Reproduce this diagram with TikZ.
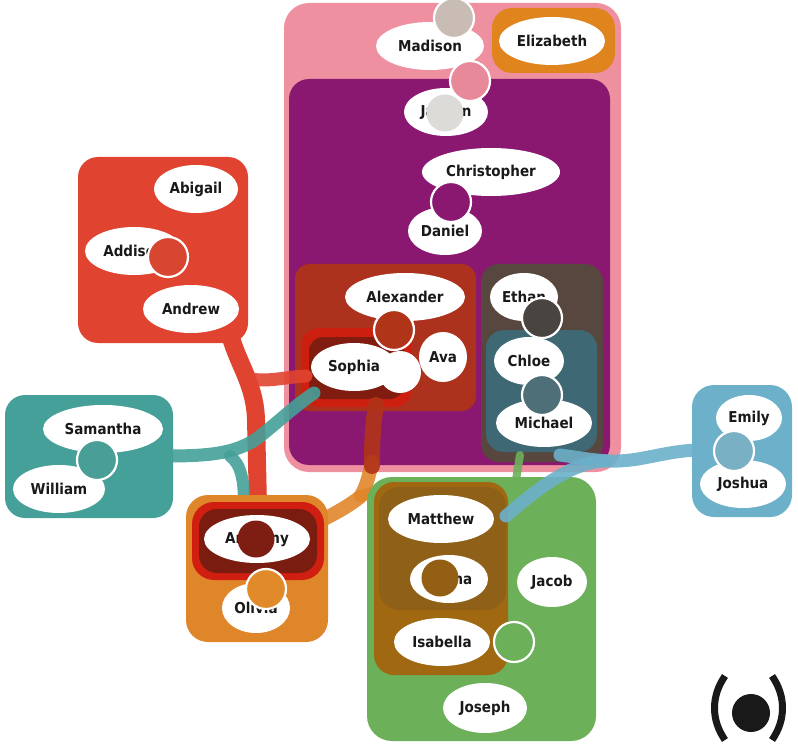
\documentclass[tikz,border=0pt]{standalone}
\usepackage{fontspec}
\newfontfamily\lab{DejaVuSansCondensed-Bold}[Extension=.ttf]
\usetikzlibrary{shapes.geometric}
\definecolor{pinkC}{HTML}{EE909F}
\definecolor{purpleC}{HTML}{8A1870}
\definecolor{rustC}{HTML}{B03418}
\definecolor{oliveC}{HTML}{554B3C}
\definecolor{chloeC}{HTML}{3D6B77}
\definecolor{ringC}{HTML}{D01E10}
\definecolor{ringIn}{HTML}{7B1C10}
\definecolor{elizC}{HTML}{E0841E}
\definecolor{redC}{HTML}{E04430}
\definecolor{tealC}{HTML}{45A09A}
\definecolor{orangeC}{HTML}{E0862A}
\definecolor{greenC}{HTML}{6CB05A}
\definecolor{brownC}{HTML}{A3650E}
\definecolor{brownIn}{HTML}{8A5E1A}
\definecolor{blueC}{HTML}{6CB0CA}
\definecolor{cGrey}{HTML}{C8BCB4}
\definecolor{cLight}{HTML}{DDDBD7}
\definecolor{cPink}{HTML}{E8899A}
\definecolor{cDark}{HTML}{4A4440}
\definecolor{cChloe}{HTML}{4E6E78}
\definecolor{cRed}{HTML}{D84530}
\definecolor{cTeal}{HTML}{4A9E98}
\definecolor{cDarkRed}{HTML}{7E1E12}
\definecolor{cOrange}{HTML}{E08A2A}
\definecolor{cBrown}{HTML}{935F14}
\definecolor{cBlue}{HTML}{7AB0C4}
\tikzset{
  setbox/.style={rounded corners=20},
  inbox/.style={rounded corners=18, fill opacity=0.93},
  tent/.style={line cap=round, line join=round, draw opacity=0.9},
  nm/.style={ellipse, fill=white, inner sep=0pt, font=\lab\fontsize{15}{17}\selectfont, text=black!90},
  mk/.style={circle, draw=white, line width=2.2pt, inner sep=0pt, minimum size=40pt},
  mkp/.style={circle, inner sep=0pt, minimum size=37pt}
}
\begin{document}
\begin{tikzpicture}[x=1pt,y=-1pt]
\useasboundingbox (0,0) rectangle (798,746);
% big sets
\fill[pinkC, setbox, rounded corners=25] (284,3) rectangle (621,472);
\fill[purpleC, setbox] (289,79) rectangle (610,465);
\fill[rustC, inbox, rounded corners=15] (295,264) rectangle (476,411);
\fill[oliveC, inbox] (481,264) rectangle (603,462);
\fill[chloeC, inbox] (486,330) rectangle (597,452);
\fill[ringC, inbox] (301,328) rectangle (412,407);
\fill[ringIn, inbox, rounded corners=14] (309,337) rectangle (404,399);
\fill[elizC, setbox] (492,8) rectangle (615,73);
% red set
\fill[redC, setbox] (78,157) rectangle (248,343);
\draw[tent, redC, draw opacity=1, line width=18pt] (229,330) .. controls (236,362) and (255,382) .. (256,420) -- (258,505);
\draw[tent, redC, line width=13pt] (250,379) .. controls (270,382) and (285,377) .. (306,376);
% teal set
\fill[tealC, setbox] (5,395) rectangle (173,518);
\draw[tent, tealC, line width=13pt] (168,456) .. controls (215,456) and (235,452) .. (255,440) .. controls (275,425) and (292,408) .. (314,393);
\draw[tent, tealC, line width=12pt] (230,456) .. controls (242,465) and (244,482) .. (244,506);
% orange set
\fill[orangeC, setbox, rounded corners=22] (186,495) rectangle (328,642);
\draw[tent, orangeC, line width=14pt] (372,462) .. controls (368,480) and (365,490) .. (360,497) .. controls (350,505) and (338,512) .. (322,520);
\draw[tent, orangeC, line width=12pt] (360,496) -- (376,492);
\draw[tent, rustC, line width=16pt] (376,405) .. controls (372,430) and (372,450) .. (372,466);
\fill[ringC, rounded corners=22] (192,502) rectangle (324,580);
\fill[ringIn, rounded corners=18] (199,509) rectangle (317,573);
% green set
\fill[greenC, setbox, rounded corners=25] (367,477) rectangle (596,741);
\draw[tent, greenC, line width=8pt] (520,455) -- (516,480);
% brown set
\fill[brownC, setbox, fill opacity=0.95] (374,482) rectangle (508,675);
\fill[brownIn, fill opacity=0.8, rounded corners=20] (379,487) rectangle (506,610);
% blue set
\fill[blueC, setbox, rounded corners=22] (692,385) rectangle (792,517);
\draw[tent, blueC, line width=13pt] (696,450) .. controls (660,452) and (640,462) .. (610,461) .. controls (590,460) and (575,457) .. (560,455);
\draw[tent, blueC, line width=13pt] (606,461) .. controls (575,462) and (545,482) .. (506,516);
% names
\node[nm, minimum width=108pt, minimum height=48pt] (madison) at (430,46) {Madison};
\node[nm, minimum width=106pt, minimum height=48pt] (elizabeth) at (552,41) {Elizabeth};
\node[nm, minimum width=84pt, minimum height=48pt] (jayden) at (446,112) {Jayden};
\node[nm, minimum width=138pt, minimum height=48pt] (christopher) at (491,172) {Christopher};
\node[nm, minimum width=74pt, minimum height=48pt] (daniel) at (445,231) {Daniel};
\node[nm, minimum width=120pt, minimum height=48pt] (alexander) at (405,297) {Alexander};
\node[nm, minimum width=86pt, minimum height=48pt] (sophia) at (354,367) {Sophia};
\node[nm, minimum width=48pt, minimum height=50pt] (ava) at (443,357) {Ava};
\node[nm, minimum width=68pt, minimum height=48pt] (ethan) at (524,297) {Ethan};
\node[nm, minimum width=70pt, minimum height=48pt] (chloe) at (529,361) {Chloe};
\node[nm, minimum width=96pt, minimum height=48pt] (michael) at (544,423) {Michael};
\node[nm, minimum width=84pt, minimum height=48pt] (abigail) at (196,189) {Abigail};
\node[nm, minimum width=98pt, minimum height=48pt] (addison) at (134,251) {Addison};
\node[nm, minimum width=96pt, minimum height=48pt] (andrew) at (191,309) {Andrew};
\node[nm, minimum width=120pt, minimum height=48pt] (samantha) at (103,429) {Samantha};
\node[nm, minimum width=92pt, minimum height=48pt] (william) at (59,489) {William};
\node[nm, minimum width=106pt, minimum height=48pt] (anthony) at (257,539) {Anthony};
\node[nm, minimum width=68pt, minimum height=50pt] (olivia) at (256,608) {Olivia};
\node[nm, minimum width=106pt, minimum height=48pt] (matthew) at (441,519) {Matthew};
\node[nm, minimum width=78pt, minimum height=48pt] (emma) at (449,579) {Emma};
\node[nm, minimum width=70pt, minimum height=50pt] (jacob) at (552,582) {Jacob};
\node[nm, minimum width=96pt, minimum height=48pt] (isabella) at (442,642) {Isabella};
\node[nm, minimum width=84pt, minimum height=50pt] (joseph) at (485,708) {Joseph};
\node[nm, minimum width=66pt, minimum height=46pt] (emily) at (749,418) {Emily};
\node[nm, minimum width=86pt, minimum height=48pt] (joshua) at (743,484) {Joshua};
% markers
\node[mk, fill=cGrey] (m1) at (454,18) {};
\node[mk, fill=cPink] (m2) at (470,81) {};
\node[mkp, fill=cLight] (m3) at (445,113) {};
\node[mk, fill=purpleC] (m4) at (451,202) {};
\node[mk, fill=rustC] (m5) at (394,330) {};
\node[mkp, fill=white, minimum size=42pt] (m6) at (400,372) {};
\node[mk, fill=cDark] (m7) at (542,318) {};
\node[mk, fill=cChloe] (m8) at (542,395) {};
\node[mk, fill=cRed] (m9) at (168,257) {};
\node[mk, fill=cTeal] (m10) at (97,460) {};
\node[mkp, fill=cDarkRed] (m11) at (256,539) {};
\node[mk, fill=cOrange] (m12) at (266,589) {};
\node[mkp, fill=cBrown] (m13) at (440,578) {};
\node[mk, fill=greenC] (m14) at (514,642) {};
\node[mk, fill=cBlue] (m15) at (734,451) {};
% logo
\node[circle, fill=black!90, inner sep=0pt, minimum size=38pt] (logo) at (751,713) {};
\draw[black!90, line width=7pt] (725,676) .. controls (711,696) and (711,720) .. (725,740);
\draw[black!90, line width=7pt] (772,676) .. controls (786,696) and (786,720) .. (772,740);
\end{tikzpicture}
\end{document}
